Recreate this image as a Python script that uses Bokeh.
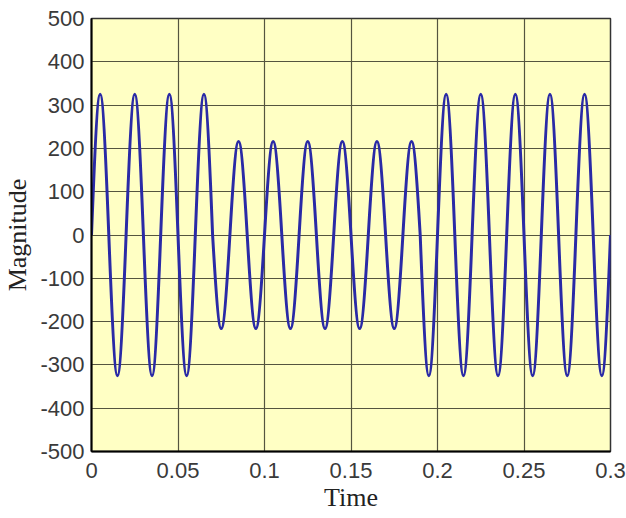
import numpy as np
from bokeh.plotting import figure
from bokeh.models import FixedTicker
from bokeh.embed import file_html
from bokeh.resources import INLINE

# Half-cycle peaks of the waveform (time of peak in s, peak magnitude)
peak_times = [0.005, 0.015, 0.025, 0.035, 0.045, 0.055, 0.065,
              0.075, 0.085, 0.095, 0.105, 0.115, 0.125, 0.135, 0.145, 0.155, 0.165, 0.175, 0.185,
              0.195, 0.205, 0.215, 0.225, 0.235, 0.245, 0.255, 0.265, 0.275, 0.285, 0.295]
peak_values = [325, -325, 325, -325, 325, -325, 325,
               -216, 216, -216, 216, -216, 216, -216, 216, -216, 216, -216, 216,
               -325, 325, -325, 325, -325, 325, -325, 325, -325, 325, -325]
half_period = 0.01

x_ticks = [0, 0.05, 0.1, 0.15, 0.2, 0.25, 0.3]
x_tick_labels = ["0", "0.05", "0.1", "0.15", "0.2", "0.25", "0.3"]
y_ticks = [-500, -400, -300, -200, -100, 0, 100, 200, 300, 400, 500]
y_tick_labels = ["-500", "-400", "-300", "-200", "-100", "0", "100", "200", "300", "400", "500"]

p = figure(width=626, height=518, x_range=(0, 0.3), y_range=(-500, 500),
           output_backend="svg", toolbar_location=None,
           min_border_left=90, min_border_right=16, min_border_top=18, min_border_bottom=67)
p.background_fill_color = "#ffffc4"
p.border_fill_color = "white"
p.outline_line_color = "#333333"
p.outline_line_width = 1.5

# each half-cycle drawn as a cubic Bezier through its zero crossings and its peak
t = np.array(peak_times)
a = np.array(peak_values, dtype=float)
x0 = t - half_period / 2
x1 = t + half_period / 2
k = half_period * (4.0 / 3.0) / np.pi
p.bezier(x0=x0, y0=np.zeros_like(a), x1=x1, y1=np.zeros_like(a),
         cx0=x0 + k, cy0=a * 4.0 / 3.0, cx1=x1 - k, cy1=a * 4.0 / 3.0,
         line_color="#2a2aa6", line_width=3)

p.xaxis.ticker = FixedTicker(ticks=x_ticks)
p.yaxis.ticker = FixedTicker(ticks=y_ticks)
p.xaxis.major_label_overrides = {v: s for v, s in zip(x_ticks, x_tick_labels)}
p.yaxis.major_label_overrides = {v: s for v, s in zip(y_ticks, y_tick_labels)}

for ax in (p.xaxis[0], p.yaxis[0]):
    ax.axis_line_color = "black"
    ax.axis_line_width = 2
    ax.major_tick_in = 0
    ax.major_tick_out = 0
    ax.minor_tick_line_color = None
    ax.major_label_text_font = "Liberation Sans"
    ax.major_label_text_font_size = "22px"
    ax.major_label_text_color = "#3a3a3a"
    ax.axis_label_text_font = "Liberation Serif"
    ax.axis_label_text_font_size = "26px"
    ax.axis_label_text_font_style = "normal"
    ax.axis_label_text_color = "#222222"

p.xaxis.axis_label = "Time"
p.yaxis.axis_label = "Magnitude"
p.xaxis.major_label_standoff = 11
p.xaxis.axis_label_standoff = 2
p.yaxis.major_label_standoff = 7
p.yaxis.axis_label_standoff = 5

p.grid.grid_line_color = "#55553f"
p.grid.grid_line_width = 1.2
p.grid.grid_line_alpha = 1.0

open("out.html", "w").write(file_html(p, INLINE))
